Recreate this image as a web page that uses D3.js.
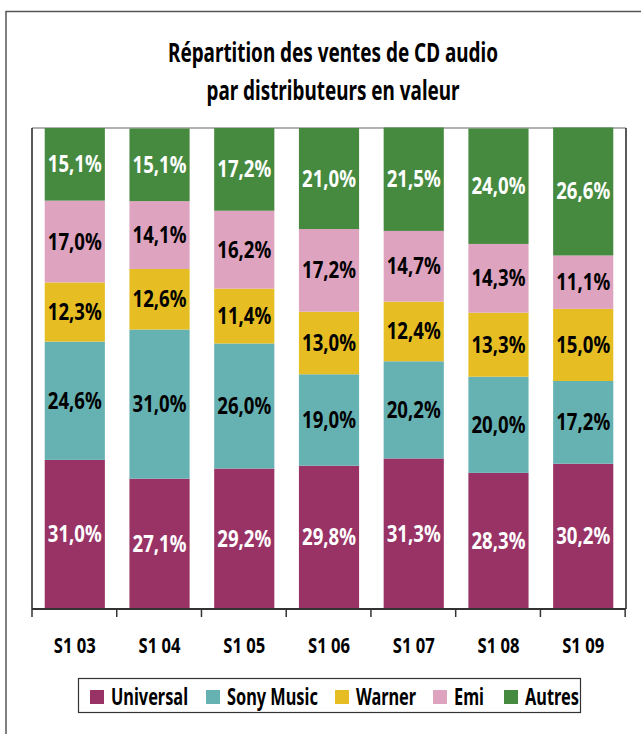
<!DOCTYPE html>
<html>
<head>
<meta charset="utf-8">
<script src="https://cdn.jsdelivr.net/npm/d3@7"></script>
<style>
  body { margin: 0; background: #fff; }
  text { font-family: "Noto Sans", "Liberation Sans", sans-serif; font-weight: bold; }
</style>
</head>
<body>
<div id="chart"></div>
<script>
// Data
const periods = ["S1 03", "S1 04", "S1 05", "S1 06", "S1 07", "S1 08", "S1 09"];
const distributors = ["Universal", "Sony Music", "Warner", "Emi", "Autres"];
const universal = [31.0, 27.1, 29.2, 29.8, 31.3, 28.3, 30.2];
const sony = [24.6, 31.0, 26.0, 19.0, 20.2, 20.0, 17.2];
const warner = [12.3, 12.6, 11.4, 13.0, 12.4, 13.3, 15.0];
const emi = [17.0, 14.1, 16.2, 17.2, 14.7, 14.3, 11.1];
const autres = [15.1, 15.1, 17.2, 21.0, 21.5, 24.0, 26.6];
const titleLines = ["Répartition des ventes de CD audio", "par distributeurs en valeur"];

const colors = ["#993366", "#66b2b3", "#e6be23", "#dda3bf", "#468a3f"];
const labelColors = ["#fff", "#000", "#000", "#000", "#fff"];

const width = 641, height = 734;
const plot = { left: 32, right: 626, top: 128, bottom: 609 };

const rows = periods.map((p, i) => ({
    period: p,
    "Universal": universal[i],
    "Sony Music": sony[i],
    "Warner": warner[i],
    "Emi": emi[i],
    "Autres": autres[i]
}));

// squeeze a group of texts so the first one gets the target width (condensed look)
function condense(sel, target) {
    const k = target / sel.node().getComputedTextLength();
    sel.each(function () {
        const len = this.getComputedTextLength();
        d3.select(this)
            .attr("textLength", len * k)
            .attr("lengthAdjust", "spacingAndGlyphs");
    });
}

const svg = d3.select("#chart")
    .append("svg")
    .attr("width", width)
    .attr("height", height);

svg.append("rect").attr("width", width).attr("height", height).attr("fill", "#fff");

// outer frame (top + left edges)
svg.append("path")
    .attr("d", `M6,${height} V11.5 H${width}`)
    .attr("fill", "none")
    .attr("stroke", "#555")
    .attr("stroke-width", 1.5);

// title
const title = svg.append("g")
    .selectAll("text")
    .data(titleLines)
    .enter()
    .append("text")
    .attr("x", 333)
    .attr("y", (d, i) => 62 + i * 38)
    .attr("text-anchor", "middle")
    .attr("font-size", 27)
    .attr("fill", "#000")
    .text(d => d);
condense(title, 330);

// scales
const x = d3.scaleBand()
    .domain(periods)
    .range([plot.left, plot.right])
    .paddingInner(0.29)
    .paddingOuter(0.15);

const y = d3.scaleLinear()
    .domain([0, 100])
    .range([plot.bottom, plot.top]);

const color = d3.scaleOrdinal().domain(distributors).range(colors);
const textColor = d3.scaleOrdinal().domain(distributors).range(labelColors);

const series = d3.stack().keys(distributors)(rows);

// plot frame
svg.append("line")
    .attr("x1", plot.left).attr("x2", plot.right)
    .attr("y1", plot.top).attr("y2", plot.top)
    .attr("stroke", "#999").attr("stroke-width", 1.5);
svg.append("line")
    .attr("x1", plot.left).attr("x2", plot.left)
    .attr("y1", plot.top).attr("y2", plot.bottom)
    .attr("stroke", "#222").attr("stroke-width", 1.5);
svg.append("line")
    .attr("x1", plot.right).attr("x2", plot.right)
    .attr("y1", plot.top).attr("y2", plot.bottom)
    .attr("stroke", "#222").attr("stroke-width", 1.5);

// bars
const layers = svg.append("g")
    .selectAll("g")
    .data(series)
    .enter()
    .append("g")
    .attr("fill", d => color(d.key));

layers.selectAll("rect")
    .data(d => d)
    .enter()
    .append("rect")
    .attr("x", d => x(d.data.period))
    .attr("y", d => y(d[1]))
    .attr("width", x.bandwidth())
    .attr("height", d => y(d[0]) - y(d[1]));

// value labels
const values = svg.append("g")
    .selectAll("g")
    .data(series)
    .enter()
    .append("g")
    .attr("fill", d => textColor(d.key))
    .selectAll("text")
    .data(d => d)
    .enter()
    .append("text")
    .attr("x", d => x(d.data.period) + x.bandwidth() / 2)
    .attr("y", d => (y(d[0]) + y(d[1])) / 2 + 8)
    .attr("text-anchor", "middle")
    .attr("font-size", 22.5)
    .text(d => (d[1] - d[0]).toFixed(1).replace(".", ",") + "%");
condense(values, 54);

// x axis
const xAxis = svg.append("g")
    .attr("transform", `translate(0,${plot.bottom})`);

xAxis.append("line")
    .attr("x1", plot.left).attr("x2", plot.right)
    .attr("stroke", "#333").attr("stroke-width", 2);

const step = x.step();
xAxis.selectAll(".tick")
    .data(d3.range(periods.length + 1))
    .enter()
    .append("line")
    .attr("class", "tick")
    .attr("x1", i => plot.left + i * step)
    .attr("x2", i => plot.left + i * step)
    .attr("y1", 0).attr("y2", 8)
    .attr("stroke", "#333").attr("stroke-width", 1.5);

const xLabels = xAxis.selectAll(".label")
    .data(periods)
    .enter()
    .append("text")
    .attr("class", "label")
    .attr("x", d => x(d) + x.bandwidth() / 2)
    .attr("y", 44)
    .attr("text-anchor", "middle")
    .attr("font-size", 22)
    .attr("fill", "#000")
    .text(d => d);
condense(xLabels, 42);

// legend
const legend = svg.append("g");
legend.append("rect")
    .attr("x", 78.5).attr("y", 678.5)
    .attr("width", 502).attr("height", 34)
    .attr("fill", "#fff")
    .attr("stroke", "#333").attr("stroke-width", 1.2);

const legendX = [90, 206, 335, 433, 504];
const items = legend.selectAll(".item")
    .data(distributors)
    .enter()
    .append("g")
    .attr("class", "item")
    .attr("transform", (d, i) => `translate(${legendX[i]},690)`);

items.append("rect")
    .attr("width", 14).attr("height", 14)
    .attr("fill", d => color(d));

const legendText = items.append("text")
    .attr("x", 21)
    .attr("y", 15)
    .attr("font-size", 22.5)
    .attr("fill", "#000")
    .text(d => d);
condense(legendText, 77);
</script>
</body>
</html>
